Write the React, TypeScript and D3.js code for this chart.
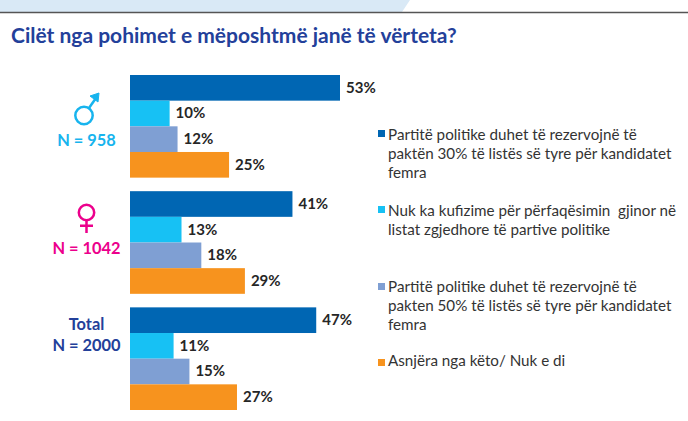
import React from 'react';
import * as d3 from 'd3';

const categories = ['male', 'female', 'total'];
const seriesNames = [
  'Partitë politike duhet të rezervojnë të paktën 30%',
  'Nuk ka kufizime',
  'Partitë politike duhet të rezervojnë të pakten 50%',
  'Asnjëra nga këto/ Nuk e di',
];
const maleValues = [53, 10, 12, 25];
const femaleValues = [41, 13, 18, 29];
const totalValues = [47, 11, 15, 27];
const seriesColors = ['#0066b3', '#17c1f4', '#7f9fd3', '#f7931e'];
const legendLines = [
  ['Partitë politike duhet të rezervojnë të', 'paktën 30% të listës së tyre për kandidatet', 'femra'],
  ['Nuk ka kufizime për përfaqësimin  gjinor në', 'listat zgjedhore të partive politike'],
  ['Partitë politike duhet të rezervojnë të', 'pakten 50% të listës së tyre për kandidatet', 'femra'],
  ['Asnjëra nga këto/ Nuk e di'],
];
const legendBaselines = [139.5, 216, 292, 366];
const legendMarkTops = [130, 206, 283, 359];

const FONT = 'Lato, "Noto Sans", sans-serif';
const values = [maleValues, femaleValues, totalValues];

export default function App() {
  const x = d3.scaleLinear().domain([0, 53]).range([130, 340]);
  const groupY = d3.scaleBand().domain(categories).range([75, 410]).paddingInner(0.1165);
  const barY = d3.scaleBand().domain(seriesNames).range([0, groupY.bandwidth()]);

  return (
    <svg
      width={688}
      height={421}
      style={{ position: 'absolute', left: 0, top: 0, fontFamily: FONT }}
    >
      <rect width={688} height={421} fill="#fff" />
      <path d="M0,0H410L402,12H0Z" fill="#d9e9f6" />
      <line x1={0} x2={688} y1={12.5} y2={12.5} stroke="#555" strokeWidth={1.5} />
      <text x={11} y={43} fontSize={21} fontWeight={700} fill="#23409a">
        Cilët nga pohimet e mëposhtmë janë të vërteta?
      </text>

      {categories.map((c, i) => (
        <g key={c} transform={`translate(0,${groupY(c)})`}>
          {seriesNames.map((s, j) => (
            <g key={s}>
              <rect
                x={x(0)}
                y={barY(s)}
                width={x(values[i][j]) - x(0)}
                height={barY.bandwidth()}
                fill={seriesColors[j]}
              />
              <text
                x={x(values[i][j]) + 6}
                y={barY(s)! + barY.bandwidth() / 2 + 5}
                fontSize={15}
                fontWeight={700}
                fill="#262626"
              >
                {values[i][j]}%
              </text>
            </g>
          ))}
        </g>
      ))}

      <g fill="none" stroke="#17b4ee" strokeWidth={2.5}>
        <circle cx={84} cy={115.5} r={8.7} />
        <path d="M89,108L96,98" />
      </g>
      <path d="M90,96L99,93L98,102Z" fill="#17b4ee" stroke="#17b4ee" />
      <text x={86.5} y={146} textAnchor="middle" fontSize={16.4} fontWeight={700} fill="#17b4ee">
        N = 958
      </text>

      <g fill="none" stroke="#ec008c" strokeWidth={2.5}>
        <circle cx={86.5} cy={212.5} r={7.7} />
        <path d="M86.5,220.2V233M80,225.7H93" />
      </g>
      <text x={86.5} y={254} textAnchor="middle" fontSize={16.4} fontWeight={700} fill="#ec008c">
        N = 1042
      </text>

      <g textAnchor="middle" fontSize={16.4} fontWeight={700} fill="#23409a">
        <text x={86.5} y={330}>Total</text>
        <text x={86.5} y={351}>N = 2000</text>
      </g>

      {legendLines.map((lines, i) => (
        <g key={i}>
          <rect x={378} y={legendMarkTops[i]} width={7} height={7} fill={seriesColors[i]} />
          {lines.map((line, k) => (
            <text key={k} x={388} y={legendBaselines[i] + k * 19} fontSize={15.2} fill="#333" style={{ whiteSpace: 'pre' }}>
              {line}
            </text>
          ))}
        </g>
      ))}
    </svg>
  );
}
